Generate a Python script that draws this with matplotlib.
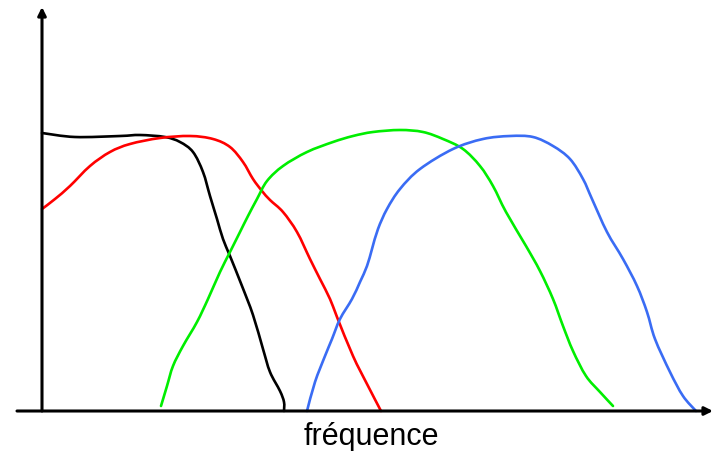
import matplotlib
matplotlib.use('Agg')
from matplotlib import pyplot as plt
from matplotlib.path import Path
from matplotlib.patches import PathPatch

# curves (x = frequency, y = amplitude, arbitrary units)
black_x = [0, 33, 78, 98, 123, 138, 151, 161, 168, 175, 181, 188, 200, 211, 221, 228, 238, 242, 242]
black_y = [278, 274, 275, 276, 274, 269, 259, 239, 215, 192, 172, 155, 125, 96, 62, 39, 20, 9, 0]

red_x = [0, 13, 28, 48, 68, 88, 118, 148, 171, 188, 201, 211, 220, 228, 241, 255, 268, 278, 288, 295,
         311, 325, 339]
red_y = [202, 212, 225, 245, 259, 267, 273, 275, 272, 264, 249, 232, 220, 211, 199, 179, 152, 132, 112, 94,
         55, 27, 0]

green_x = [119, 125, 131, 141, 155, 166, 178, 188, 198, 206, 215, 225, 241, 265, 291, 311, 331, 358, 381,
           401, 421, 438, 451, 464, 484, 498, 511, 521, 531, 544, 558, 571]
green_y = [5, 25, 45, 65, 89, 112, 139, 159, 179, 195, 212, 230, 245, 259, 269, 275, 279, 281, 279,
           272, 262, 245, 225, 199, 165, 140, 112, 85, 60, 35, 19, 5]

blue_x = [265, 273, 283, 290, 298, 310, 318, 325, 330, 336, 345, 358, 378, 411, 441, 468, 491, 511, 528,
          541, 550, 565, 581, 595, 605, 613, 628, 641, 654]
blue_y = [0, 29, 55, 72, 92, 112, 129, 145, 162, 182, 202, 222, 242, 262, 272, 275, 274, 265, 252,
          232, 212, 179, 152, 125, 99, 72, 39, 15, 0]


def smooth_path(xs, ys):
    # catmull-rom through the points, drawn as cubic bezier segments
    pts = list(zip(xs, ys))
    verts = [pts[0]]
    codes = [Path.MOVETO]
    for i in range(len(pts) - 1):
        p0 = pts[i - 1] if i > 0 else pts[i]
        p1 = pts[i]
        p2 = pts[i + 1]
        p3 = pts[i + 2] if i + 2 < len(pts) else pts[i + 1]
        c1 = (p1[0] + (p2[0] - p0[0]) / 6, p1[1] + (p2[1] - p0[1]) / 6)
        c2 = (p2[0] - (p3[0] - p1[0]) / 6, p2[1] - (p3[1] - p1[1]) / 6)
        verts += [c1, c2, p2]
        codes += [Path.CURVE4] * 3
    return Path(verts, codes)


fig = plt.figure(figsize=(7.13, 4.52), dpi=100)
ax = fig.add_axes([0, 0, 1, 1])
ax.set_xlim(-42, 671)
ax.set_ylim(-40, 412)
ax.axis('off')

for xs, ys, col in [(black_x, black_y, 'black'), (red_x, red_y, '#ff0000'),
                    (green_x, green_y, '#00ee00'), (blue_x, blue_y, '#3a6cf4')]:
    ax.add_patch(PathPatch(smooth_path(xs, ys), fill=False, edgecolor=col, lw=1.9,
                           joinstyle='round', capstyle='round'))

# axes with arrows
ax.annotate('', xy=(671, 0), xytext=(-25, 0),
            arrowprops=dict(arrowstyle='-|>', lw=2.2, color='black', mutation_scale=12, shrinkA=0, shrinkB=0))
ax.annotate('', xy=(0, 404), xytext=(0, 0),
            arrowprops=dict(arrowstyle='-|>', lw=2.2, color='black', mutation_scale=12, shrinkA=0, shrinkB=0))

ax.text(329, -25, 'fréquence', fontsize=22, family='Liberation Sans', ha='center', va='center')

plt.savefig('out.png', dpi=100)
